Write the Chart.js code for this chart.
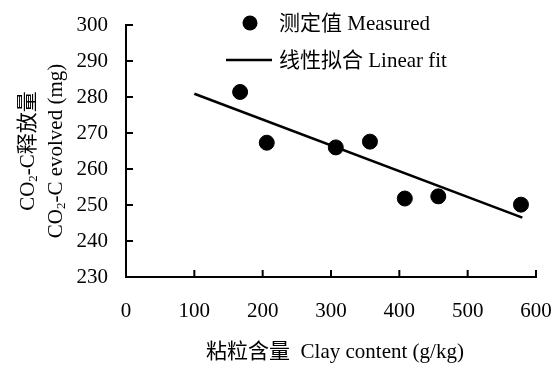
<!DOCTYPE html>
<html>
<head>
<meta charset="utf-8">
<script src="https://cdn.jsdelivr.net/npm/chart.js@4"></script>
<style>
  html, body { margin: 0; padding: 0; background: #fff; }
  canvas { display: block; }
</style>
</head>
<body>
<canvas id="clayChart" width="554" height="367"></canvas>
<script>
/* ── DATA ───────────────────────────────────────────────── */
const clayContent = [167, 206, 307, 357, 408, 457, 578];          // g/kg
const co2Evolved  = [281.4, 267.3, 266.0, 267.6, 251.8, 252.4, 250.1]; // mg
const fitX        = [100, 580];
const fitY        = [280.9, 246.5];
const xTickValues = [0, 100, 200, 300, 400, 500, 600];
const yTickValues = [230, 240, 250, 260, 270, 280, 290, 300];

const seriesLabels = ["测定值 Measured", "线性拟合 Linear fit"];
const xTitle = "粘粒含量  Clay content (g/kg)";
const yTitleCn = ["CO", "2", "-C释放量"];
const yTitleEn = ["CO", "2", "-C evolved (mg)"];

const FONT = '"Liberation Serif", "Noto Sans CJK SC", serif';

/* ── INWARD TICKS + LEGEND + TITLES ─────────────────────── */
const decorations = {
  id: "decorations",
  afterDraw(chart) {
    const { ctx, chartArea: a, scales: { x, y } } = chart;
    ctx.save();
    ctx.strokeStyle = "#000";
    ctx.fillStyle = "#000";
    ctx.lineWidth = 2;

    // ticks pointing into the plot
    xTickValues.forEach(v => {
      const px = x.getPixelForValue(v);
      ctx.beginPath(); ctx.moveTo(px, a.bottom); ctx.lineTo(px, a.bottom - 7); ctx.stroke();
    });
    yTickValues.forEach(v => {
      const py = y.getPixelForValue(v);
      ctx.beginPath(); ctx.moveTo(a.left, py); ctx.lineTo(a.left + 7, py); ctx.stroke();
    });

    // legend
    ctx.font = `21px ${FONT}`;
    ctx.textBaseline = "middle";
    ctx.textAlign = "left";
    ctx.beginPath(); ctx.arc(250, 23, 7.5, 0, Math.PI * 2); ctx.fill();
    ctx.fillText(seriesLabels[0], 279, 24);
    ctx.lineWidth = 2.5;
    ctx.beginPath(); ctx.moveTo(226, 60); ctx.lineTo(272, 60); ctx.stroke();
    ctx.fillText(seriesLabels[1], 279, 61);

    // x axis title
    ctx.textAlign = "center";
    ctx.fillText(xTitle, 335, 352);

    // y axis title, two rotated lines with subscript 2, centred on the plot
    const midY = (a.top + a.bottom) / 2;
    const drawSub = (parts, cx) => {
      ctx.save();
      ctx.textBaseline = "middle";
      ctx.textAlign = "left";
      ctx.font = `21px ${FONT}`;
      const w0 = ctx.measureText(parts[0]).width, w2 = ctx.measureText(parts[2]).width;
      ctx.font = `13px ${FONT}`;
      const w1 = ctx.measureText(parts[1]).width;
      const total = w0 + w1 + w2;
      ctx.translate(cx, midY + total / 2);
      ctx.rotate(-Math.PI / 2);
      ctx.font = `21px ${FONT}`;
      ctx.fillText(parts[0], 0, 0);
      ctx.font = `13px ${FONT}`;
      ctx.fillText(parts[1], w0, 6);
      ctx.font = `21px ${FONT}`;
      ctx.fillText(parts[2], w0 + w1, 0);
      ctx.restore();
    };
    drawSub(yTitleCn, 28);
    drawSub(yTitleEn, 56);

    ctx.restore();
  }
};

/* ── CHART ──────────────────────────────────────────────── */
new Chart(document.getElementById("clayChart"), {
  type: "scatter",
  data: {
    datasets: [
      {
        label: seriesLabels[0],
        data: clayContent.map((v, i) => ({ x: v, y: co2Evolved[i] })),
        backgroundColor: "#000",
        borderColor: "#000",
        pointRadius: 7.5,
        pointHoverRadius: 7.5
      },
      {
        label: seriesLabels[1],
        type: "line",
        data: fitX.map((v, i) => ({ x: v, y: fitY[i] })),
        borderColor: "#000",
        borderWidth: 2.5,
        pointRadius: 0,
        fill: false
      }
    ]
  },
  options: {
    responsive: false,
    animation: false,
    layout: { padding: { top: 25, right: 18, left: 0, bottom: 0 } },
    plugins: { legend: { display: false }, tooltip: { enabled: false } },
    scales: {
      x: {
        type: "linear",
        min: 0, max: 600,
        afterBuildTicks: s => { s.ticks = xTickValues.map(v => ({ value: v })); },
        afterFit: s => { s.height = 90; s.paddingLeft = 0; s.paddingRight = 0; },
        ticks: { color: "#000", padding: 22, font: { family: FONT, size: 21 } },
        grid: { drawOnChartArea: false, drawTicks: false },
        border: { color: "#000", width: 2 }
      },
      y: {
        min: 230, max: 300,
        afterBuildTicks: s => { s.ticks = yTickValues.map(v => ({ value: v })); },
        afterFit: s => { s.width = 126; s.paddingTop = 0; s.paddingBottom = 0; },
        ticks: { color: "#000", padding: 18, font: { family: FONT, size: 21 } },
        grid: { drawOnChartArea: false, drawTicks: false },
        border: { color: "#000", width: 2 }
      }
    }
  },
  plugins: [decorations]
});
</script>
</body>
</html>
